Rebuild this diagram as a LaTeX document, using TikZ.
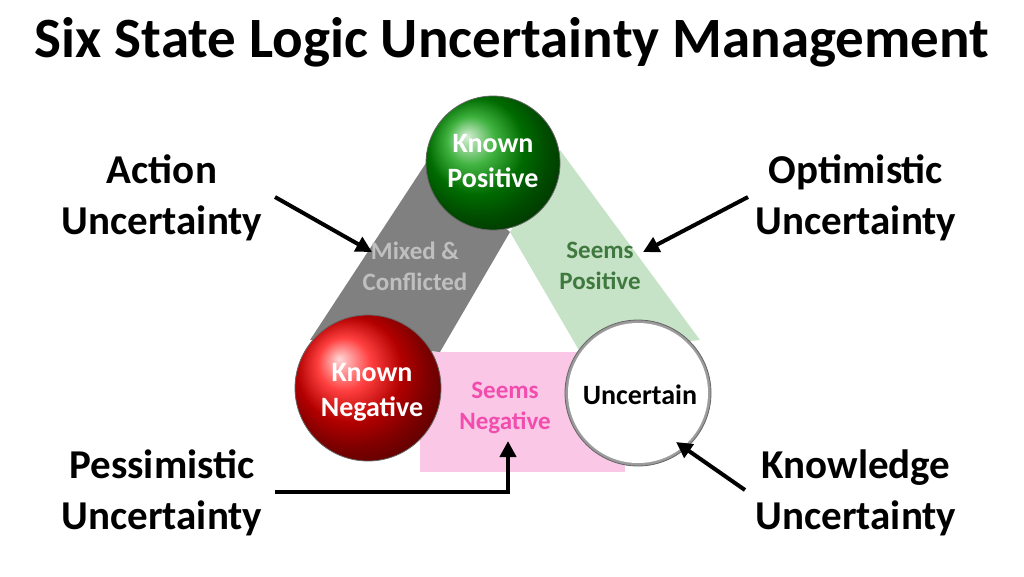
\documentclass[tikz,border=0pt]{standalone}
\usepackage{fontspec}
\setmainfont{Carlito}
\usetikzlibrary{arrows.meta}
\begin{document}
\begin{tikzpicture}[x=1pt,y=-1pt,
  lbl/.style={font=\fontsize{41}{51}\selectfont\bfseries,align=center},
  ctext/.style={font=\fontsize{28}{35}\selectfont\bfseries,align=center},
  btext/.style={font=\fontsize{25}{31}\selectfont\bfseries,align=center},
  arr/.style={line width=4pt,-{Triangle[length=16pt,width=16pt]}},
  ball/.style={circle,minimum size=#1,inner sep=0pt,draw=black!60,line width=0.8pt}]
\useasboundingbox (0,0) rectangle (1024,576);
\node[font=\fontsize{57}{60}\selectfont\bfseries] (title) at (512,42) {Six State Logic Uncertainty Management};
% bands
\fill[black!50] (428,160) -- (510,232) -- (440,352) -- (310,340) -- cycle;
\fill[green!50!black!22] (510,232) -- (560,150) -- (700,340) -- (580,352) -- cycle;
\fill[magenta!22] (420,352) rectangle (625,472);
\node[btext,text=black!25] (mc) at (415,266) {Mixed \&\\Conflicted};
\node[btext,text=green!30!black!75] (sp) at (600,266) {Seems\\Positive};
\node[btext,text=magenta!70] (sn) at (505,408) {Seems\\Negative};
% circles
\node[ball=134pt,shading=ball,ball color=green!60!black] (kp) at (493,163) {};
\node[text=white,ctext] (kpt) at (493,161) {Known\\Positive};
\node[ball=146pt,shading=ball,ball color=red] (kn) at (368,388) {};
\node[text=white,ctext] (knt) at (372,392) {Known\\Negative};
\node[ball=146pt,inner color=white,outer color=black!40] (un) at (638,393) {};
\fill[white] (638,393) circle (70pt);
\node[ctext] (unt) at (640,395) {Uncertain};
% labels
\node[lbl] (au) at (162,198) {Action\\Uncertainty};
\node[lbl] (ou) at (856,198) {Optimistic\\Uncertainty};
\node[lbl] (pu) at (162,493) {Pessimistic\\Uncertainty};
\node[lbl] (ku) at (856,493) {Knowledge\\Uncertainty};
\coordinate (a1) at (275,197); \coordinate (a2) at (372,252);
\coordinate (o1) at (748,197); \coordinate (o2) at (643,252);
\coordinate (k1) at (745,490); \coordinate (k2) at (676,442);
\coordinate (p1) at (275,492); \coordinate (p2) at (508,441);
\draw[arr] (a1) -- (a2);
\draw[arr] (o1) -- (o2);
\draw[arr] (k1) -- (k2);
\draw[arr] (p1) -- (508,492) -- (p2);
\end{tikzpicture}
\end{document}
